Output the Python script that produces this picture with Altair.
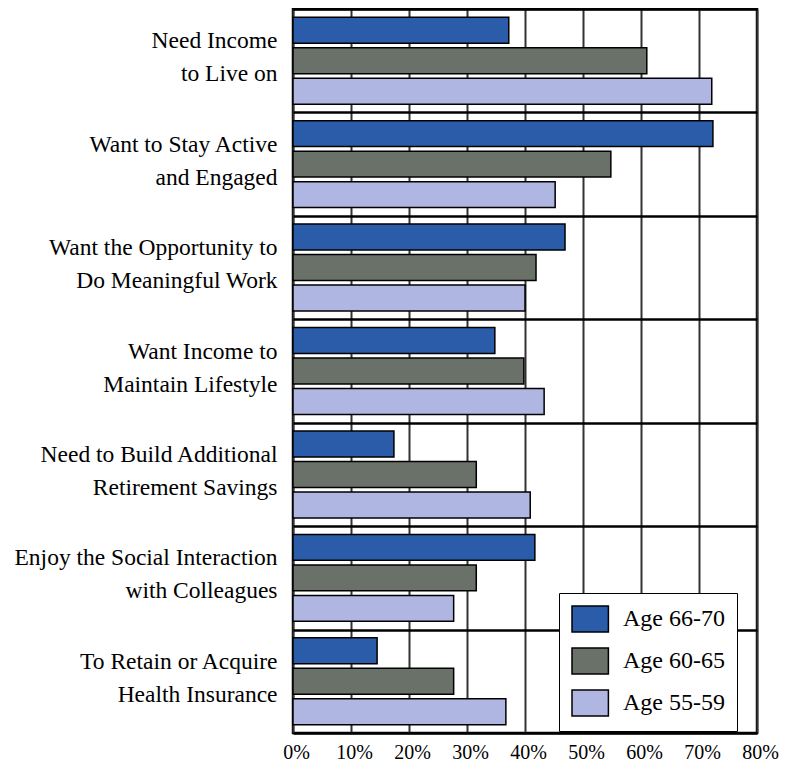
import altair as alt
import pandas as pd

reasons = [
    "Need Income|to Live on",
    "Want to Stay Active|and Engaged",
    "Want the Opportunity to|Do Meaningful Work",
    "Want Income to|Maintain Lifestyle",
    "Need to Build Additional|Retirement Savings",
    "Enjoy the Social Interaction|with Colleagues",
    "To Retain or Acquire|Health Insurance",
]
groups = ["Age 66-70", "Age 60-65", "Age 55-59"]
age_66_70 = [37.2, 72.4, 46.9, 34.8, 17.4, 41.7, 14.5]
age_60_65 = [61.0, 54.8, 41.9, 39.8, 31.6, 31.6, 27.7]
age_55_59 = [72.2, 45.2, 40.0, 43.3, 40.9, 27.7, 36.7]
colors = ["#2a5caa", "#6a7169", "#b0b6e2"]
x_ticks = [0, 10, 20, 30, 40, 50, 60, 70, 80]

rows = []
for g, vals in zip(groups, [age_66_70, age_60_65, age_55_59]):
    for r, v in zip(reasons, vals):
        rows.append({"reason": r, "group": g, "value": v})
df = pd.DataFrame(rows)

FONT = "Liberation Serif"

chart = alt.Chart(df).mark_bar(stroke="black", strokeWidth=1.5, opacity=1).encode(
    x=alt.X(
        "value:Q",
        scale=alt.Scale(domain=[0, 80], nice=False, zero=True),
        axis=alt.Axis(
            values=x_ticks, labelExpr="datum.value + '%'", title=None,
            grid=True, gridColor="#333333", gridWidth=2, ticks=False, domain=False,
            labelFont=FONT, labelFontSize=20, labelColor="black", labelPadding=9,
            labelFlush=False, labelOffset=3, labelOverlap=False,
        ),
    ),
    y=alt.Y(
        "reason:N", sort=reasons,
        scale=alt.Scale(paddingInner=0, paddingOuter=0),
        axis=alt.Axis(
            title=None, labelExpr="split(datum.label, '|')",
            grid=True, tickBand="extent", gridColor="black", gridWidth=2.5,
            ticks=False, domain=False, labelFont=FONT, labelFontSize=23.5,
            labelLineHeight=33, labelPadding=16, labelColor="black",
            labelOffset=-20, labelLimit=0,
        ),
    ),
    yOffset=alt.YOffset("group:N", sort=groups,
                        scale=alt.Scale(paddingInner=0.15, paddingOuter=0.27)),
    color=alt.Color(
        "group:N",
        scale=alt.Scale(domain=groups, range=colors),
        legend=alt.Legend(
            title=None, orient="none", legendX=266, legendY=584,
            direction="vertical", fillColor="white", strokeColor="black",
            padding=12, symbolType="M-1,-1H1.8V1H-1Z", symbolSize=676,
            symbolStrokeColor="black", symbolStrokeWidth=1.5, symbolOpacity=1,
            labelFont=FONT, labelFontSize=24, labelOffset=24, rowPadding=10,
            labelColor="black",
        ),
    ),
).properties(
    width=464, height=724,
    autosize=alt.AutoSizeParams(type="none"),
    padding={"left": 285, "top": 1, "right": 22, "bottom": 34},
).configure_view(stroke="black", strokeWidth=2.5)

chart.save("out.html", embed_options={"renderer": "svg", "actions": False})
